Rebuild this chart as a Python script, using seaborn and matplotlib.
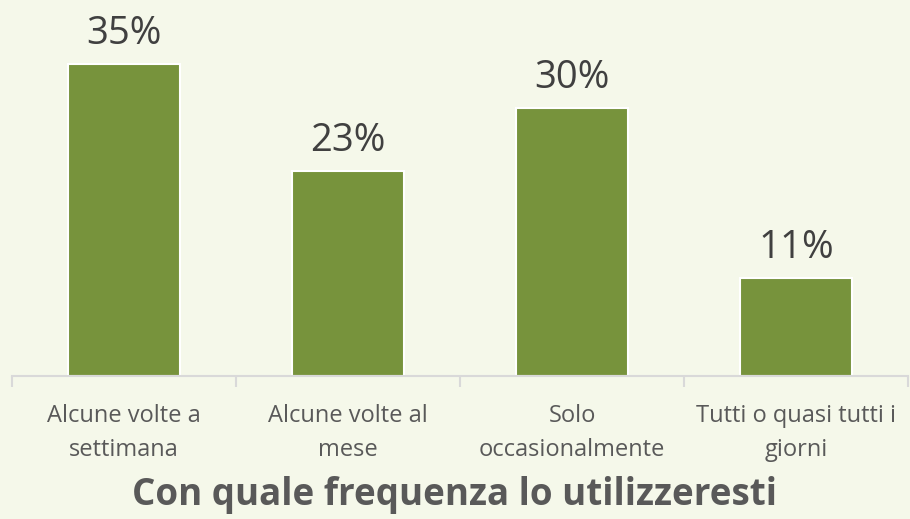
import numpy as np
import pandas as pd
import seaborn as sns
import matplotlib.pyplot as plt

categories = ["Alcune volte a\nsettimana", "Alcune volte al\nmese",
              "Solo\noccasionalmente", "Tutti o quasi tutti i\ngiorni"]
values = [35, 23, 30, 11]
title = "Con quale frequenza lo utilizzeresti"

bg = "#F5F8EA"
bar_color = "#77933C"
text_color = "#595959"

sns.set_theme(style="white")
plt.rcParams["font.family"] = ["Open Sans", "DejaVu Sans"]

df = pd.DataFrame({"cat": categories, "val": values})

fig = plt.figure(figsize=(9.10, 5.19), dpi=100, facecolor=bg)
ax = fig.add_axes([12 / 910, 143 / 519, 896 / 910, 357 / 519])
ax.set_facecolor(bg)

sns.barplot(data=df, x="cat", y="val", color=bar_color, width=0.5,
            saturation=1, edgecolor="white", linewidth=1.5, ax=ax)

ax.bar_label(ax.containers[0], labels=[f"{v}%" for v in values],
             fontsize=27.5, color="#404040", padding=8)

ax.set_ylim(0, 40)
ax.set_xlim(-0.5, len(categories) - 0.5)
ax.set_yticks([])
ax.set_xlabel("")
ax.set_ylabel("")
for s in ["left", "top", "right"]:
    ax.spines[s].set_visible(False)
ax.spines["bottom"].set_color("#D9D9D9")
ax.spines["bottom"].set_linewidth(1.5)

ax.set_xticks(range(len(categories)), categories, multialignment="center",
              linespacing=1.55)
ax.set_xticks(np.arange(-0.5, len(categories)), minor=True)
ax.tick_params(axis="x", which="minor", bottom=True, length=8,
               color="#D9D9D9", width=1.5)
ax.tick_params(axis="x", which="major", bottom=False, length=0, pad=20,
               labelsize=17, labelcolor=text_color)

fig.text(0.5, 0.046, title, ha="center", va="center", fontsize=26.5,
         fontweight="bold", color=text_color)

fig.savefig("out.png", dpi=100, facecolor=bg)
